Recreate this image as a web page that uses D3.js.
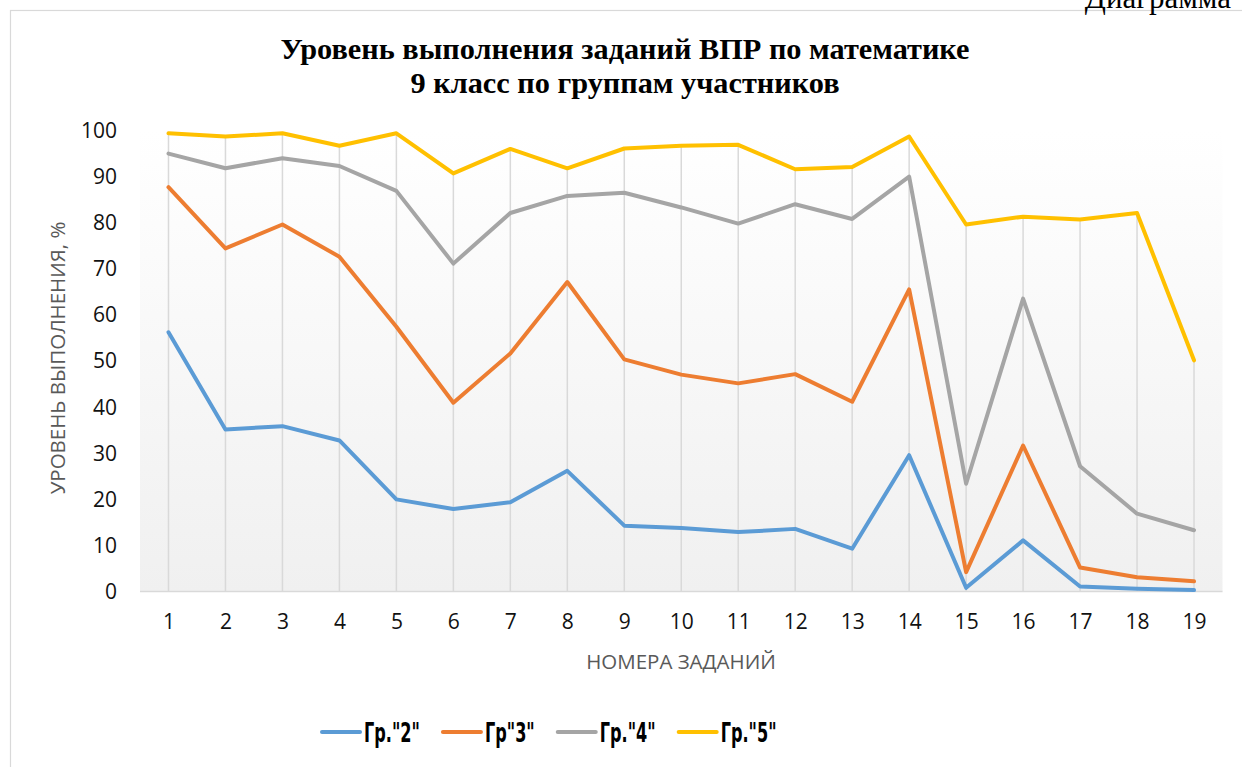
<!DOCTYPE html>
<html lang="ru">
	<head>
		<meta charset="utf-8">
		<title>ВПР математика 9 класс</title>
		<script src="https://d3js.org/d3.v7.min.js"></script>
		<style>
			body { margin: 0; background: #fff; }
		</style>
	</head>
	<body>
		<script type="text/javascript">

			// canvas size
			var w = 1242;
			var h = 767;

			// data
			var tasks = ["1","2","3","4","5","6","7","8","9","10","11","12","13","14","15","16","17","18","19"];
			var seriesNames = ['Гр."2"', 'Гр"3"', 'Гр."4"', 'Гр."5"'];
			var gr2 = [56.3, 35.2, 35.9, 32.8, 20.0, 17.9, 19.4, 26.2, 14.3, 13.8, 12.9, 13.6, 9.3, 29.6, 0.8, 11.1, 1.1, 0.6, 0.3];
			var gr3 = [87.8, 74.5, 79.7, 72.7, 57.5, 41.0, 51.7, 67.2, 50.4, 47.1, 45.2, 47.2, 41.2, 65.6, 4.2, 31.7, 5.2, 3.1, 2.2];
			var gr4 = [95.1, 91.9, 94.1, 92.4, 87.0, 71.2, 82.2, 85.9, 86.6, 83.4, 79.9, 84.1, 80.9, 90.1, 23.4, 63.6, 27.2, 16.9, 13.3];
			var gr5 = [99.5, 98.8, 99.5, 96.8, 99.5, 90.8, 96.1, 91.9, 96.2, 96.8, 97.0, 91.7, 92.2, 98.8, 79.7, 81.4, 80.8, 82.2, 50.2];
			var yTicks = [0, 10, 20, 30, 40, 50, 60, 70, 80, 90, 100];

			var colors = ["#5b9bd5", "#ed7d31", "#a5a5a5", "#ffc000"];
			var series = [gr2, gr3, gr4, gr5];

			// plot area
			var plotLeft = 140, plotRight = 1222.5, plotTop = 131, plotBottom = 591.5;

			var xScale = d3.scalePoint()
				.domain(tasks)
				.range([plotLeft, plotRight])
				.padding(0.5);

			var yScale = d3.scaleLinear()
				.domain([0, 100])
				.range([plotBottom, plotTop]);

			var svg = d3.select("body").append("svg").attr("width", w).attr("height", h);

			// background gradient
			var grad = svg.append("defs").append("linearGradient")
				.attr("id", "bg").attr("x1", 0).attr("y1", 0).attr("x2", 0).attr("y2", 1);
			grad.append("stop").attr("offset", "0%").attr("stop-color", "#ffffff");
			grad.append("stop").attr("offset", "100%").attr("stop-color", "#f0f0f0");

			// chart frame
			svg.append("rect")
				.attr("x", 10.5).attr("y", 10.5)
				.attr("width", w + 20).attr("height", h + 20)
				.attr("fill", "none").attr("stroke", "#d9d9d9").attr("stroke-width", 1.2);

			// caption cut at top right
			svg.append("text")
				.attr("x", 1231).attr("y", 8)
				.attr("text-anchor", "end")
				.style("font-family", "'Liberation Serif', 'Times New Roman', serif")
				.style("font-size", "31px")
				.attr("fill", "#000")
				.text("Диаграмма");

			svg.append("rect")
				.attr("x", plotLeft).attr("y", plotTop)
				.attr("width", plotRight - plotLeft).attr("height", plotBottom - plotTop)
				.attr("fill", "url(#bg)");

			// title
			var title = svg.append("text")
				.attr("text-anchor", "middle")
				.style("font-family", "'Liberation Serif', 'Times New Roman', serif")
				.style("font-weight", "bold")
				.style("font-size", "30.3px")
				.attr("fill", "#000");
			title.append("tspan").attr("x", 625).attr("y", 59).text("Уровень выполнения заданий ВПР по математике");
			title.append("tspan").attr("x", 625).attr("y", 93).text("9 класс по группам участников");

			// drop lines from highest point to axis
			svg.append("g").selectAll("line")
				.data(tasks)
				.enter()
				.append("line")
				.attr("x1", function(d) { return xScale(d); })
				.attr("x2", function(d) { return xScale(d); })
				.attr("y1", function(d, i) { return yScale(d3.max(series, function(s) { return s[i]; })); })
				.attr("y2", plotBottom)
				.attr("stroke", "#d9d9d9")
				.attr("stroke-width", 1.5);

			// axes
			var xAxis = d3.axisBottom(xScale).tickSize(0).tickPadding(23);
			var yAxis = d3.axisLeft(yScale).tickValues(yTicks).tickSize(0).tickPadding(23);

			var gx = svg.append("g")
				.attr("transform", "translate(0," + plotBottom + ")")
				.call(xAxis);
			gx.select(".domain").attr("stroke", "#d9d9d9").attr("stroke-width", 1.5)
				.attr("d", "M" + plotLeft + ",0H" + plotRight);
			gx.selectAll("text")
				.style("font-family", "'Open Sans', 'Noto Sans', sans-serif")
				.style("font-size", "21px")
				.attr("fill", "#111");

			var gy = svg.append("g")
				.attr("transform", "translate(" + plotLeft + ",0)")
				.call(yAxis);
			gy.select(".domain").remove();
			gy.selectAll("text")
				.style("font-family", "'Open Sans', 'Noto Sans', sans-serif")
				.style("font-size", "21px")
				.attr("fill", "#111");

			// axis titles
			svg.append("text")
				.attr("x", 681).attr("y", 669)
				.attr("text-anchor", "middle")
				.style("font-family", "'Open Sans', 'Noto Sans', sans-serif")
				.style("font-size", "20.5px")
				.attr("fill", "#595959")
				.text("НОМЕРА ЗАДАНИЙ");

			svg.append("text")
				.attr("transform", "translate(65,358) rotate(-90)")
				.attr("text-anchor", "middle")
				.style("font-family", "'Open Sans', 'Noto Sans', sans-serif")
				.style("font-size", "20.5px")
				.attr("fill", "#595959")
				.text("УРОВЕНЬ ВЫПОЛНЕНИЯ, %");

			// lines
			var line = d3.line()
				.x(function(d, i) { return xScale(tasks[i]); })
				.y(function(d) { return yScale(d); });

			svg.append("g").selectAll("path")
				.data(series)
				.enter()
				.append("path")
				.attr("d", line)
				.attr("fill", "none")
				.attr("stroke", function(d, i) { return colors[i]; })
				.attr("stroke-width", 4)
				.attr("stroke-linejoin", "round")
				.attr("stroke-linecap", "round");

			// legend (bold condensed look)
			var lx = 322;
			var ly = 732;
			var squeeze = 0.62;
			seriesNames.forEach(function(name, i) {
				svg.append("line")
					.attr("x1", lx).attr("x2", lx + 38)
					.attr("y1", ly).attr("y2", ly)
					.attr("stroke", colors[i])
					.attr("stroke-width", 4)
					.attr("stroke-linecap", "round");
				var t = svg.append("text")
					.attr("transform", "translate(" + (lx + 42) + "," + (ly + 10) + ") scale(" + squeeze + ",1)")
					.style("font-family", "'DejaVu Sans', sans-serif")
					.style("font-weight", "bold")
					.style("font-size", "26px")
					.attr("fill", "#000")
					.text(name);
				lx = lx + 42 + t.node().getComputedTextLength() * squeeze + 23;
			});

		</script>
	</body>
</html>
